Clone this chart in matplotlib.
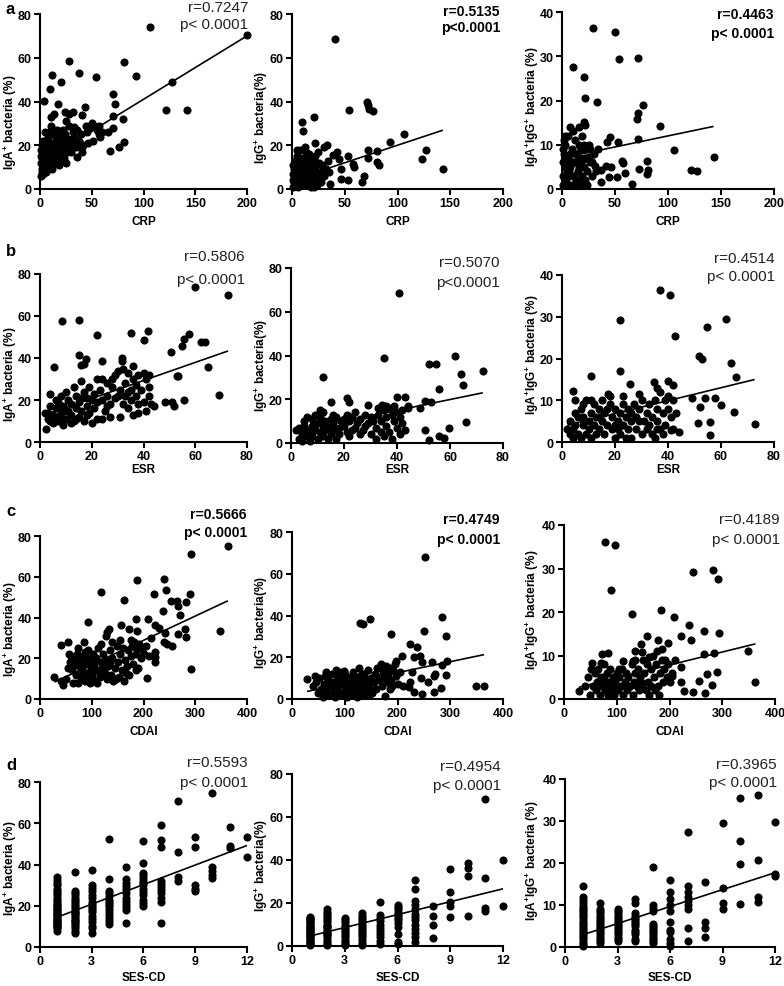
import numpy as np
import matplotlib
matplotlib.use('Agg')
import matplotlib.pyplot as plt

plt.rcParams['font.family'] = ['Liberation Sans', 'DejaVu Sans']
plt.rcParams['mathtext.fontset'] = 'custom'
plt.rcParams['mathtext.rm'] = 'Liberation Sans'
plt.rcParams['mathtext.bf'] = 'Liberation Sans:bold'

# ---------------- data ----------------
# Row a: CRP
crp_iga = [(106,74),(200,70.5),(28.5,58.7),(38,53),(54,51),(11.7,52),(10,45.7),(20.6,48.8),(80.7,58),(92.7,51.5),
           (3.8,40.4),(128,48.8),(122,36),(142,36),(71,43.4),(72.5,39),(80,32),(71,33.5),(71,27.7),(81,21.3),
           (76,19.4),(68,17.5),(66,26),(57,25),(57,29),(52,29),(51,22),(44,29),(43,37.3),(41,34),(41,19),
           (41,16.8),(36,14.5),(32.6,28.2),(31.6,35),(28.5,34.3),(24,35),(25,31),(20.6,26.7),(17.4,38.9),
           (14,34.3),(11,32.8),(22,16.8),(21.5,13),
           (1,6),(2,8),(3,10),(1,12),(2,14),(4,9),(5,11),(3,16),(1,18),(2,20),(4,13),(6,15),(5,19),(7,12),
           (8,17),(6,22),(9,14),(10,19),(8,24),(11,16),(12,21),(13,13),(14,18),(15,24),(16,20),(17,15),
           (18,22),(19,26),(20,18),(21,23),(22,20),(23,14),(24,25),(25,21),(26,17),(27,23),(28,19),(30,22),
           (32,26),(34,21),(3,7),(4,17),(7,20),(9,10),(10,26),(12,9),(14,12),(16,27),(18,11),(20,13),
           (0.5,15),(1.5,9),(2.5,22),(5,26),(6,8),(8,13),(11,29),(13,25),(15,15),(19,20),(22,27),(25,12),
           (28,29),(30,17),(33,24),(35,19),(36,27),(38,22),(40,25),(45,26),(48,28),(42,20),(46,21),(50,30),
           (55,27),(58,24),(60,26)]
crp_igg = [(41,68.6),(71,40),(72,38.4),(72.8,36.6),(54.4,36),(77,35.8),(20.6,32.8),(9.5,30.5),(10.4,26.4),
           (106,25),(92.7,21.3),(127,17.8),(123,13.7),(143,9),(80.7,17.2),(80.7,12.2),(82,11),(72,18),(72,14),
           (68.7,6.1),(66,3.4),(57.6,11.4),(58.5,9.9),(53,15.2),(53,4.1),(46.5,4.6),(46.5,9.1),(44.3,13.7),
           (42.7,17),(38.6,15.5),(36.4,2.3),(33.2,20.3),(30.4,19),(22,21),(27.8,3.4),(34.8,7.6),
           (1,1),(2,3),(3,5),(1,7),(2,9),(4,11),(5,2),(6,6),(3,13),(7,8),(8,4),(9,10),(10,14),(11,2),(12,7),
           (13,12),(14,5),(15,9),(16,16),(17,3),(18,11),(19,7),(20,14),(21,1),(22,9),(23,5),(24,12),(25,17),
           (26,8),(27,4),(28,11),(30,6),(32,9),(34,13),(1,11),(2,5),(4,7),(5,15),(6,1),(7,12),(8,18),(9,6),
           (11,9),(12,3),(13,17),(14,14),(16,6),(18,1),(19,13),(20,4),(22,15),(24,2),(26,12),(28,7),(0.5,4),
           (3,9),(6,10),(10,4),(15,12),(5,18),(8,14),(12,19),(17,8),(20,10)]
crp_igaigg = [(29,36.4),(50.4,35.5),(10,27.5),(20.5,25.3),(54,29.3),(71.8,29.6),(22,20.6),(33,19.6),(76,19),
              (71.8,17.2),(70.9,15.8),(20.5,15.2),(21.4,14.5),(92,14.3),(7.9,14.1),(15.7,13.9),(3,12),
              (71.8,11.3),(45.7,11.7),(42.5,10.6),(53,10.7),(106,8.9),(143,7.3),(122,4.3),(127.6,4),(80.6,6.4),
              (81,4.4),(80,3.4),(57,6.3),(58,5.8),(59,3.6),(72.4,4.5),(66,1.1),(52,2.6),(44,2.6),(46.6,4.9),
              (41.6,5.1),(36.9,1.5),(36.9,4.2),(31,5.3),(25,7.2),
              (1,1),(2,3),(3,5),(1,6),(2,8),(4,2),(5,4),(6,7),(3,10),(7,1),(8,5),(9,9),(10,3),(11,6),(12,11),
              (13,2),(14,8),(15,4),(16,10),(17,1),(18,6),(19,3),(20,9),(21,5),(22,2),(23,7),(24,4),(25,10),
              (26,6),(28,3),(30,8),(32,4),(34,9),(1,9),(2,11),(4,6),(5,1),(6,12),(7,4),(8,8),(9,1),(10,13),
              (11,3),(12,6),(14,1),(16,5),(18,9),(20,2),(22,7),(24,1),(26,9),(28,6),(0.5,3),(3,7),(6,3),(9,6),
              (13,8),(17,7),(19,12),(21,10)]

# Row b: ESR
esr_iga = [(59.8,74),(72.7,70),(8.4,57.7),(15.1,58.2),(22,50.9),(35,51.7),(41.8,53),(40,48.7),(57.7,51.4),
           (55.8,49),(54.8,45.5),(62.4,47.7),(63.9,47.7),(50.6,42.9),(64.9,35.8),(69.3,22.3),(55.6,20.2),
           (51.8,17.2),(51,19.1),(48.5,19.2),(52.8,31.2),(53.2,31.5),(15.1,41.3),(17.6,39.4),(17,37.2),
           (16,36.6),(24,38.6),(31.8,40.2),(31.8,38.6),(5.3,35.8),(2.5,6),
           (3,11),(3,14),(4,17),(4,23),(5,9),(5,13),(6,16),(6,12),(7,10),(7,19),(8,14),(8,22),(9,8),(9,17),
           (10,11),(10,24),(11,15),(11,20),(12,13),(12,18),(13,10),(13,26),(14,16),(14,22),(15,12),(15,19),
           (16,29),(16,15),(17,24),(17,10),(18,21),(18,17),(19,14),(19,26),(20,20),(21,23),(21,16),(22,11),
           (22,19),(23,25),(24,20),(24,30),(25,15),(26,28),(26,22),(27,18),(27,12),(28,26),(29,21),(29,32),
           (30,34),(31,12),(31,25),(32,18),(33,28),(33,22),(34,16),(34,33),(35,25),(35,20),(36,30),(36,13),
           (37,22),(37,27),(38,18),(38,14),(39,25),(40,33),(40,19),(41,30),(41,15),(42,22),(42,26),(43,18),
           (44,17),(2,14),(4,10),(6,20),(8,11),(10,15),(12,9),(14,11),(16,21),(18,13),(20,9),(22,30),(24,11),
           (26,17),(28,30),(30,22),(32,35),(34,24),(36,36),(38,32),(42,32)]
esr_igg = [(40.9,68.5),(35,38.9),(61.8,39.7),(52,36.2),(54.9,35.9),(64,31.6),(72.4,32.7),(64.9,26.3),(55.8,24.7),
           (12.1,30.4),(15.2,18.6),(21,20.6),(22,18.9),(29,17.6),(40.1,21.2),(42.9,20.9),(44,17.1),(48.8,15.9),
           (50.7,19.1),(52.9,18.6),(50.7,6),(52,1.4),(55.8,3.4),(57.7,2.1),(59.8,6.7),(66,9.5),(11,15.3),(34.3,17.6),
           (3,2),(3,7),(4,4),(4,1),(5,6),(5,10),(6,3),(6,12),(7,5),(7,1),(8,8),(8,3),(9,13),(9,6),(10,2),(10,9),
           (11,5),(11,12),(12,3),(12,8),(13,10),(13,6),(14,2),(14,7),(15,11),(15,4),(16,9),(16,6),(17,2),(17,12),
           (18,7),(18,4),(19,10),(20,8),(21,13),(21,5),(22,10),(22,3),(23,12),(24,7),(24,14),(25,9),(26,4),
           (26,11),(27,6),(28,13),(29,9),(30,4),(31,10),(32,7),(32,2),(33,13),(34,5),(34,10),(35,15),(35,3),
           (36,12),(36,8),(37,16),(37,5),(38,13),(38,2),(39,10),(39,17),(40,14),(40,7),(41,12),(41,4),(42,15),
           (42,9),(43,6),(44,16),(2,6),(5,8),(8,11),(12,14),(16,13),(20,11),(23,6),(28,8),(30,12),(33,16),(36,17)]
esr_igaigg = [(36.9,36.3),(40.9,35.3),(42.8,25.3),(22,29.2),(54.8,27.5),(62,29.5),(22,17.1),(51.6,20.6),(53,19.8),
              (63.9,18.9),(65.7,15.5),(11.1,15.9),(4.2,12.1),(17.4,11.6),(18,11.1),(25.8,13.8),(29,11.4),
              (34.9,14.3),(36,13),(40,14.5),(41.9,13.7),(48.9,10.5),(53.9,10.5),(57.9,10.6),(60,8.8),(52.1,8.4),
              (51.3,4.5),(56,4.9),(56,1.6),(64.9,7.2),(72.7,4.3),(41.3,2.8),(44.1,2.4),
              (3,2),(3,5),(4,3),(4,1),(5,7),(5,4),(6,2),(6,6),(7,1),(7,8),(8,4),(8,6),(9,2),(9,10),(10,5),(10,3),
              (11,7),(11,1),(12,4),(12,9),(13,6),(13,2),(14,8),(14,3),(15,5),(15,10),(16,2),(16,7),(17,4),(18,9),
              (19,3),(19,6),(20,1),(20,8),(21,5),(21,3),(22,7),(22,2),(23,9),(23,4),(24,6),(24,1),(25,3),(25,8),
              (26,5),(26,1),(27,9),(28,3),(28,6),(29,8),(30,2),(30,10),(31,5),(32,7),(32,3),(33,9),(34,2),(34,6),
              (35,10),(35,1),(36,5),(36,8),(37,3),(37,12),(38,7),(38,2),(39,10),(39,4),(40,8),(40,11),(41,6),
              (42,10),(42,3),(43,7),(2,3),(5,10),(8,9),(11,10),(14,6),(17,8),(20,4),(23,11),(26,7),(29,5),(33,4),(36,3)]

# Row c: CDAI
cdai_iga = [(363,74.9),(292,71.3),(187,58.2),(239,59),(118,52.5),(221,51.6),(244,53.4),(163,48.5),(253,48.2),
            (264,48.2),(267,45.6),(282,47.8),(290,51.5),(237,43.1),(270,41),(209,39.3),(186,39.3),(92,37.7),
            (222,36.4),(157,36.4),(134,34.4),(172,34.6),(188,33.4),(229,34.9),(242,32.6),(281,34.6),(267,31.8),
            (282,30.6),(347,33.3),(291,14.8),(207,10.2),(223,23),(223,20.5),(223,18),(40,26.6),(54,28.2),(85,28.2),
            (130,32.8),(239,27.9),(245,27),(256,25.9),
            (28,11),(40,9),(45,7),(50,10),(55,15),(58,18),(60,21),(62,14),(65,17),(68,20),(70,12),(72,22),(74,8),
            (76,16),(78,19),(80,11),(82,14),(84,21),(86,9),(88,17),(90,13),(92,24),(94,10),(96,19),(98,15),(100,12),
            (102,22),(104,17),(106,9),(108,20),(110,14),(112,25),(115,11),(118,18),(120,15),(122,22),(125,13),
            (128,19),(130,10),(132,16),(135,24),(138,12),(140,20),(142,9),(145,15),(148,26),(150,18),(152,11),
            (155,22),(158,14),(160,25),(162,9),(165,19),(168,16),(170,24),(172,12),(175,21),(178,26),(180,17),
            (182,28),(185,22),(188,24),(190,15),(192,27),(195,20),(198,25),(200,22),(205,26),(210,21),(215,30),
            (56,22),(64,8),(74,25),(86,23),(96,8),(118,27),(128,31),(140,28),(155,29),(175,29),(60,16),(66,19),
            (84,12),(90,20),(100,18),(110,8),(116,12),(124,16),(136,18),(146,10),(166,13),(186,14)]
cdai_igg = [(253,68),(283.5,39.5),(147,38.5),(128,36.3),(134,35.7),(188,31.2),(250,32.5),(291,30),(223,26.4),
            (237,24.8),(293,18.4),(283.5,16.5),(291,11.5),(348,6.4),(364,6.1),(245.6,17.6),(266,17.6),(271,12),
            (269,10.9),(282,5.1),(269,3.2),(245.6,2.4),(258,8.3),(243.7,10.1),(231,3.2),(221.5,5.6),(209,20.8),
            (198,18.4),(232,20),(242,20.8),(228,12.8),(223.4,8.3),(44,11.2),(28.5,9.6),(98,13.3),(177,1.6),
            (40,6),(45,8),(50,3),(52,10),(55,5),(58,1),(60,7),(62,11),(65,4),(68,9),(70,2),(72,6),(75,12),(78,3),
            (80,8),(82,1),(84,14),(86,5),(88,10),(90,3),(92,7),(94,12),(96,2),(98,9),(100,5),(102,11),(104,1),
            (106,7),(108,4),(110,10),(112,2),(114,8),(116,13),(118,5),(120,3),(122,9),(124,1),(126,6),(128,11),
            (130,4),(132,8),(134,2),(136,12),(138,6),(140,9),(142,3),(144,14),(146,7),(148,5),(150,10),(152,3),
            (155,8),(158,12),(160,5),(162,15),(165,9),(168,17),(170,6),(172,13),(175,10),(178,16),(180,8),
            (182,12),(185,15),(188,9),(190,6),(192,14),(195,17),(198,11),(200,7),(205,13),(210,6),(64,13),(76,6),
            (90,13),(104,9),(118,10),(132,12),(146,2),(160,11),(174,14),(186,5),(57,4),(71,8),(87,2),(99,13),
            (113,5),(127,15),(141,7)]
cdai_igaigg = [(77.5,36.2),(97.6,35.4),(89.4,25.1),(129,19.6),(183,20.5),(209,18.8),(244,29.1),(282,29.7),(291,27.6),
               (237.5,17),(264.6,15.7),(293,15.2),(241,13.6),(222,14.4),(157.5,14.4),(178,13.6),(196.5,12.8),
               (146,12.7),(186,11.5),(135,11.1),(348,11),(363,3.8),(285,10.6),(266,10.3),(271,5.7),(290,6.3),
               (256,4.2),(281,3.3),(268,1.4),(243.7,1.5),(228,1.9),(222,4),(221.7,7.3),(205,5.4),(72.4,10.3),
               (83.8,10.6),(111.5,8.7),(131,8.8),(71,8.3),(53.5,8.3),(148,10.7),(160.6,9.6),(28.3,1.8),
               (40,3),(45,5),(50,1),(52,7),(55,3),(58,6),(60,2),(62,4),(65,7),(68,1),(70,5),(72,3),(75,8),(78,2),
               (80,4),(82,6),(84,1),(86,3),(88,7),(90,2),(92,5),(94,1),(96,4),(98,3),(100,6),(102,2),(105,5),
               (108,3),(110,7),(112,1),(115,4),(118,6),(120,2),(122,5),(125,3),(128,8),(130,1),(132,4),(135,6),
               (138,3),(140,7),(142,2),(145,5),(148,3),(150,9),(152,6),(155,2),(158,8),(160,4),(162,1),(165,7),
               (168,10),(170,5),(172,2),(175,8),(178,3),(180,1),(182,6),(185,9),(188,4),(190,7),(195,5),(198,8),
               (200,4),(205,6),(210,9),(64,4),(76,5),(88,4),(104,7),(116,3),(134,9),(146,4),(164,3),(176,11),(192,9)]

# Row d: SES-CD (score -> observed values)
sescd_iga = {1: [8,9,9.5,10,10.5,11,11.5,12,12.5,13,13.5,14,15,15.5,16,16.5,17,18,18.5,19,20,20.5,21,22,23,24,25,26,27,28,30,31,32.5,34],
             2: [7,8,9,10,11,12,12.5,13,14,15,16,16.5,17,18,19,20,21,22,23,24,25,26,27,36.5],
             3: [7,9,10,12,13.5,15,17,18,19,20,21,22,24,25,27,28.5,30,37.5],
             4: [11,12.5,14,15.5,17,18.5,20,21,22,23,24.5,26,27,33,52.5],
             5: [11.5,18,19.5,21,22.5,24,26,28,29.5,31,33,39],
             6: [20,21.5,23,25,26.5,28,30,31,32,33.5,35,36,40.5,51.5],
             7: [11.7,22,24,26,27.5,29,30.5,32,48.5,52,59],
             8: [32,34,46,71], 9: [27,28,30,48.5,53.5], 10: [33.5,35,37,39,74.5],
             11: [48,49,58], 12: [43.5,53.5]}
sescd_igg = {1: [0.5,1,1.5,2,2.5,3,3.5,4,4.5,5,5.5,6,6.5,7,7.5,8,8.5,9,9.5,10,10.5,11,11.5,12,12.5,13,13.5],
             2: [0.3,1,2,3,4,5,5.5,6,7,8,9,9.5,10,11,12,13,14,15,16,17],
             3: [0.3,1,2,3,4,5,6,7,8,9,10,11,12,13],
             4: [0.5,1.5,3,4,5,6,7,8,9,10,11,12,13,14,15.5],
             5: [1,2.5,4,5.5,7,8.5,10,11.5,13,14.5,20.5],
             6: [1,2,5.5,9,10.5,12,13,14,15,16,17,18,19],
             7: [2,4,6,8,10,12,13.5,15,17,19,21,26.5,30.5],
             8: [3.5,10,14,18.5], 9: [13.5,18.5,20.5,25,36], 10: [14,32.5,36.5,38.5],
             11: [16.5,17.5,31.5,68.5], 12: [18.5,40]}
sescd_igaigg = {1: [0.3,0.8,1.3,1.8,2.3,2.8,3.3,3.8,4.3,4.8,5.3,5.8,6.3,6.8,7.3,7.8,8.3,8.8,9.3,9.8,10.5,11.2,12,14.5],
                2: [1,1.5,2,2.5,3,3.5,4,4.5,5,5.5,6,6.5,7,7.5,8,8.5,9,10.5],
                3: [1.5,2,2.5,3,3.5,4,4.5,5,5.5,6,6.5,7,7.5,8,8.5,9],
                4: [1.5,2,3,3.5,4,5,5.5,6,6.5,7,7.5,8,10.5,11.5],
                5: [1,1.5,2,2.5,3,3.5,4,4.5,5,5.5,8.5,9.2,10,19],
                6: [0.3,1,2,3.5,4,6,8.5,10,11.5,13,16],
                7: [1.5,4.5,9,10,11,12,13,14.5,27.5],
                8: [2.5,4.5,6,15.5], 9: [9,10.5,14,29.5], 10: [10.2,19.7,25.3,35.4],
                11: [10.8,11.8,20.6,36.3], 12: [17,17.4,29.7]}

# regression lines (intercept, slope)
fit_crp = [(12.0, 0.29), (4.0, 0.16), (7.0, 0.05)]
fit_esr = [(12.1, 0.43), (5.0, 0.248), (3.7, 0.155)]
fit_cdai = [(5.0, 0.119), (2.1, 0.0526), (1.86, 0.0298)]
fit_sescd = [(11.3, 3.16), (2.6, 2.0), (1.55, 1.345)]

r_values = [["0.7247", "0.5135", "0.4463"], ["0.5806", "0.5070", "0.4514"],
            ["0.5666", "0.4749", "0.4189"], ["0.5593", "0.4954", "0.3965"]]
p_texts = [["p< 0.0001", "p<0.0001", "p< 0.0001"], ["p< 0.0001", "p<0.0001", "p< 0.0001"],
           ["p< 0.0001", "p< 0.0001", "p< 0.0001"], ["p< 0.0001", "p< 0.0001", "p< 0.0001"]]
bold_stats = [[False, True, True], [False, False, False], [True, True, False], [False, False, False]]

x_names = ["CRP", "ESR", "CDAI", "SES-CD"]
x_limits = [200, 80, 400, 12]
x_ticks = [[0, 50, 100, 150, 200], [0, 20, 40, 60, 80], [0, 100, 200, 300, 400], [0, 3, 6, 9, 12]]
y_names = [r"IgA$^{\mathbf{+}}$ bacteria (%)", r"IgG$^{\mathbf{+}}$ bacteria(%)",
           r"IgA$^{\mathbf{+}}$IgG$^{\mathbf{+}}$ bacteria (%)"]
y_limits = [80, 80, 40]
y_ticks = [[0, 20, 40, 60, 80], [0, 20, 40, 60, 80], [0, 10, 20, 30, 40]]
panel_letters = ["a", "b", "c", "d"]


def cols_to_xy(d):
    xs, ys = [], []
    for k, v in d.items():
        xs += [k] * len(v)
        ys += v
    return np.array(xs, float), np.array(ys, float)


def pts_to_xy(p):
    a = np.array(p, float)
    return a[:, 0], a[:, 1]


row_data = [
    [pts_to_xy(crp_iga), pts_to_xy(crp_igg), pts_to_xy(crp_igaigg)],
    [pts_to_xy(esr_iga), pts_to_xy(esr_igg), pts_to_xy(esr_igaigg)],
    [pts_to_xy(cdai_iga), pts_to_xy(cdai_igg), pts_to_xy(cdai_igaigg)],
    [cols_to_xy(sescd_iga), cols_to_xy(sescd_igg), cols_to_xy(sescd_igaigg)],
]
fits = [fit_crp, fit_esr, fit_cdai, fit_sescd]

# ---------------- layout (pixels: left, top, right, bottom) ----------------
W, H = 784, 987
rects = [
    [(40, 15, 247, 190), (292, 15, 503, 190), (562, 13, 774, 190)],
    [(40, 275, 247, 443), (291, 269, 503, 444), (562, 276, 774, 443)],
    [(40, 537, 247, 700), (292, 533, 503, 700), (564, 526, 775, 700)],
    [(40, 783, 247, 948), (292, 775, 503, 947), (565, 780, 775, 948)],
]
stat_pos = [
    [(248, 8, 25), (500, 12, 28), (774, 15, 34)],
    [(245, 257, 280), (500, 263, 283), (775, 259, 277)],
    [(247, 515, 533), (500, 520, 540), (780, 520, 540)],
    [(248, 763, 783), (501, 767, 786), (777, 765, 783)],
]
xlabel_y = [221, 469, 731, 977]        # centre of x-axis title
ylabel_right = [19, 270, 541]          # right edge of y-axis title per column
ylabel_cy = [[122, 118, 107], [374, 366, 355], [629, 623, 610], [868, 866, 861]]
letter_y = [9, 252, 512, 766]

fig = plt.figure(figsize=(W / 100, H / 100), dpi=100)

for r in range(4):
    fig.text(6 / W, 1 - letter_y[r] / H, panel_letters[r], fontsize=12, fontweight='bold',
             ha='left', va='center')
    for c in range(3):
        l, t, rr, b = rects[r][c]
        ax = fig.add_axes([l / W, 1 - b / H, (rr - l) / W, (b - t) / H])
        x, y = row_data[r][c]
        ax.scatter(x, y, s=34, c='black', linewidths=0, clip_on=False, zorder=3)
        b0, b1 = fits[r][c]
        lx = np.array([x.min(), x.max()])
        ax.plot(lx, b0 + b1 * lx, color='black', lw=1.2, zorder=4, solid_capstyle='butt')
        ax.set_xlim(0, x_limits[r])
        ax.set_ylim(0, y_limits[c])
        ax.set_xticks(x_ticks[r])
        ax.set_yticks(y_ticks[c])
        for s in ['top', 'right']:
            ax.spines[s].set_visible(False)
        for s in ['left', 'bottom']:
            ax.spines[s].set_linewidth(1.5)
        ax.tick_params(direction='out', length=4, width=1.5, pad=2)
        for lab in ax.get_xticklabels() + ax.get_yticklabels():
            lab.set_fontweight('bold')
            lab.set_fontsize(9)
        ax.set_xlabel(x_names[r], fontsize=8.5, fontweight='bold')
        ax.xaxis.set_label_coords(0.5, -(xlabel_y[r] - 5 - b) / (b - t))
        ax.set_ylabel(y_names[c], fontsize=8.5, fontweight='bold')
        ax.yaxis.set_label_coords((ylabel_right[c] - l) / (rr - l), (b - ylabel_cy[r][c]) / (b - t))
        ax.patch.set_alpha(0)
        sx, ry, py = stat_pos[r][c]
        bold = bold_stats[r][c]
        kw = dict(ha='right', va='center', fontsize=10 if bold else 11,
                  fontweight='bold' if bold else 'normal', color='black' if bold else '#222222')
        fig.text(sx / W, 1 - ry / H, "r=" + r_values[r][c], **kw)
        fig.text(sx / W, 1 - py / H, p_texts[r][c], **kw)

fig.savefig("out.png", dpi=100)
